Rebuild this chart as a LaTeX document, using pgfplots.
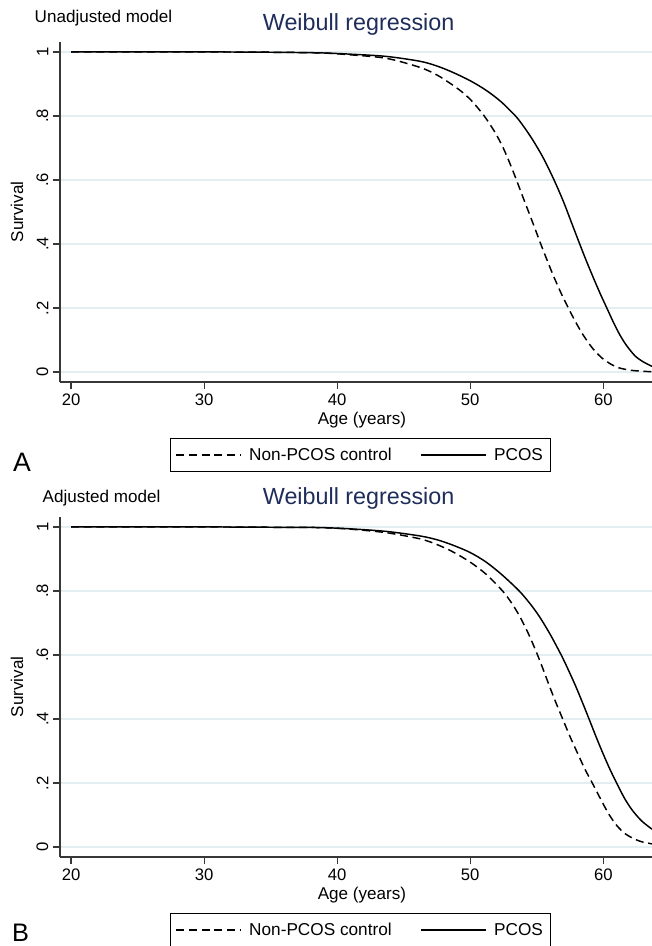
\documentclass[border=0pt]{standalone}
\usepackage{pgfplots}
\pgfplotsset{compat=1.18}
\usepackage{fontspec}
\setmainfont{Liberation Sans}

\definecolor{titleblue}{RGB}{30,45,90}
\definecolor{gridc}{RGB}{226,238,242}
\definecolor{axisc}{RGB}{55,55,55}

% survival curves (age, S)
\pgfplotstableread{
x y
20 1.000
30 1.000
35 0.999
38.7 0.997
41 0.993
43.7 0.986
46.2 0.971
47.5 0.956
48.7 0.936
50 0.910
51.2 0.880
52.3 0.845
53.4 0.800
54 0.768
54.7 0.725
55.5 0.668
56.3 0.600
57 0.533
57.6 0.468
58.2 0.403
58.7 0.350
59.3 0.290
59.8 0.242
60.3 0.197
60.8 0.152
61.3 0.112
61.8 0.080
62.4 0.050
63 0.032
63.66 0.018
}\pcosA
\pgfplotstableread{
x y
20 1.000
30 1.000
35 0.999
38.7 0.997
41 0.991
43.7 0.980
46.2 0.952
47.5 0.928
48.7 0.896
49.5 0.871
50.2 0.843
51.05 0.800
51.8 0.753
52.4 0.707
52.9 0.660
53.4 0.608
53.9 0.553
54.4 0.499
54.85 0.450
55.3 0.400
55.8 0.347
56.3 0.296
56.9 0.240
57.4 0.198
57.9 0.158
58.5 0.115
59.2 0.074
59.9 0.044
60.6 0.024
61.2 0.013
62 0.006
62.8 0.003
63.66 0.001
}\ctrlA
\pgfplotstableread{
x y
20 1.000
30 1.000
35 0.999
38.7 0.998
41 0.994
43.7 0.986
46.2 0.972
47.5 0.960
48.7 0.943
50 0.920
51.2 0.890
52.4 0.850
53.68 0.800
54.5 0.760
55.2 0.720
56 0.665
56.8 0.603
57.3 0.560
57.9 0.505
58.4 0.455
58.93 0.400
59.5 0.340
60 0.290
60.5 0.243
61 0.200
61.6 0.152
62.2 0.114
62.9 0.081
63.66 0.056
}\pcosB
\pgfplotstableread{
x y
20 1.000
30 1.000
35 0.999
38.7 0.998
41 0.993
43.7 0.982
46.2 0.963
47.5 0.945
48.7 0.922
50 0.890
51.2 0.852
52.43 0.800
53.1 0.763
53.7 0.722
54.4 0.664
55 0.606
55.5 0.553
55.95 0.503
56.45 0.450
56.95 0.400
57.5 0.345
58.1 0.290
58.6 0.245
59.2 0.198
59.8 0.150
60.4 0.104
61 0.068
61.7 0.040
62.7 0.019
63.66 0.010
}\ctrlB

\pgfplotsset{weib/.style={
    scale only axis, width=444pt, height=255pt,
    xmin=19.17, xmax=63.66, ymin=-0.031, ymax=1.031,
    axis x line*=bottom, axis y line*=left,
    axis line style={axisc, line width=1pt, -},
    xtick={20,30,40,50,60},
    ytick={0,0.2,0.4,0.6,0.8,1},
    yticklabels={0,.2,.4,.6,.8,1},
    tick align=outside, major tick length=5.25pt,
    tick style={axisc, line width=0.9pt},
    ymajorgrids, grid style={gridc, line width=1pt},
    ticklabel style={font=\fontsize{12.5}{14}\selectfont},
    yticklabel style={rotate=90, anchor=south},
    /pgf/number format/assume math mode=true,
    xlabel={Age (years)}, ylabel={Survival},
    label style={font=\fontsize{12.8}{15}\selectfont},
    xlabel style={at={(axis description cs:0.51,-0.112)}, anchor=center},
    ylabel style={at={(axis description cs:-0.0726,0.5)}, anchor=center},
    legend style={at={(axis description cs:0.5076,-0.1647)}, anchor=north,
        draw=black, line width=0.75pt, legend columns=2,
        font=\fontsize{12.9}{15}\selectfont, inner xsep=4pt, inner ysep=5pt,
        /tikz/every odd column/.append style={column sep=3.5pt},
        /tikz/every even column/.append style={column sep=19.5pt}},
    legend cell align=left,
    legend image code/.code={\draw[##1] (0pt,0pt) -- (48.75pt,0pt);},
}}
\tikzset{ctrl/.style={black, line width=1.1pt, dash pattern=on 6pt off 3.5pt, smooth},
         pcos/.style={black, line width=1.1pt, smooth}}

\begin{document}
\begin{tikzpicture}
\path[use as bounding box] (0pt,0pt) rectangle (489pt,-709.5pt);

% panel A
\node[anchor=west, font=\fontsize{12.8}{15}\selectfont] at (22.5pt,-13.5pt) {Unadjusted model};
\node[titleblue, font=\fontsize{17.5}{20}\selectfont] at (269pt,-18.5pt) {Weibull regression};
\begin{axis}[weib, at={(45pt,-286.5pt)}, anchor=south west]
  \addplot[ctrl] table {\ctrlA};
  \addplot[pcos] table {\pcosA};
  \legend{Non-PCOS control, PCOS}
\end{axis}
\node[inner sep=0pt, font=\fontsize{20}{24}\selectfont] at (16.5pt,-346.5pt) {A};

% panel B
\node[anchor=west, font=\fontsize{12.8}{15}\selectfont] at (28.5pt,-373.5pt) {Adjusted model};
\node[titleblue, font=\fontsize{17.5}{20}\selectfont] at (269pt,-374pt) {Weibull regression};
\begin{axis}[weib, at={(45pt,-642.75pt)}, anchor=south west]
  \addplot[ctrl] table {\ctrlB};
  \addplot[pcos] table {\pcosB};
  \legend{Non-PCOS control, PCOS}
\end{axis}
\node[inner sep=0pt, font=\fontsize{19}{23}\selectfont] at (15.4pt,-699.5pt) {B};
\end{tikzpicture}
\end{document}
